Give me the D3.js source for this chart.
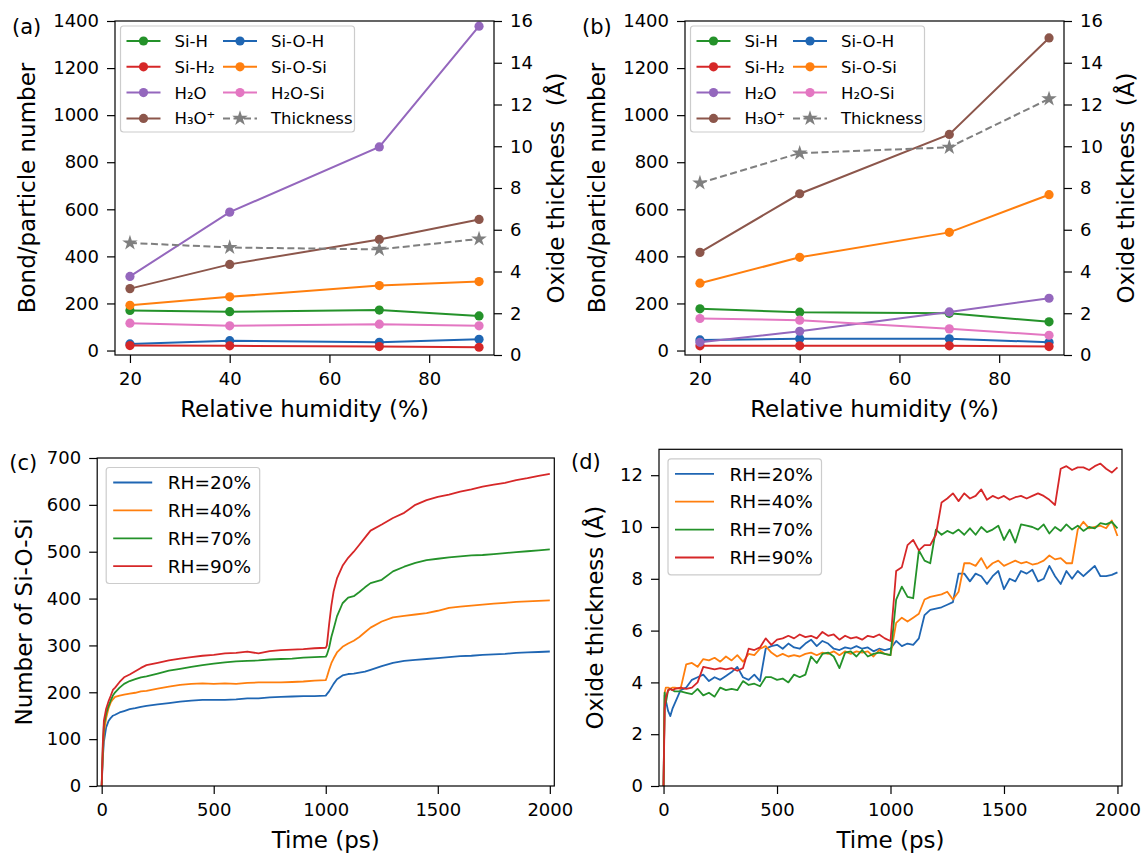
<!DOCTYPE html>
<html><head><meta charset="utf-8">
<script src="https://cdn.jsdelivr.net/npm/d3@7"></script>
<style>
body{margin:0;background:#fff}
svg text{font-family:"DejaVu Sans",sans-serif;fill:#000}
</style>
</head><body>
<svg id="fig" width="1143" height="853"></svg>
<script>
// ---------- data ----------
const humidity = [20, 40, 70, 90];
const xTicksRH = [20, 40, 60, 80];
const yTicksBond = [0, 200, 400, 600, 800, 1000, 1200, 1400];
const yTicksThick = [0, 2, 4, 6, 8, 10, 12, 14, 16];

// panel (a)
const aSiH   = [170, 165, 172, 147];
const aSiH2  = [21, 20, 17, 14];
const aH2O   = [315, 588, 865, 1378];
const aH3O   = [263, 366, 472, 557];
const aSiOH  = [28, 42, 35, 48];
const aSiOSi = [192, 228, 276, 293];
const aH2OSi = [116, 105, 112, 105];
const aThick = [5.37, 5.15, 5.06, 5.56];

// panel (b)
const bSiH   = [177, 163, 158, 122];
const bSiH2  = [20, 20, 20, 17];
const bH2O   = [35, 82, 164, 222];
const bH3O   = [417, 666, 918, 1328];
const bSiOH  = [45, 50, 50, 35];
const bSiOSi = [286, 396, 502, 662];
const bH2OSi = [136, 129, 92, 65];
const bThick = [8.24, 9.67, 9.95, 12.27];

const seriesNames = ["Si-H", "Si-H₂", "H₂O", "H₃O⁺", "Si-O-H", "Si-O-Si", "H₂O-Si", "Thickness"];

// panel (c): number of Si-O-Si vs time
const tC = [0,5,10,20,30,40,50,60,80,100,125,150,175,200,250,300,350,400,450,500,
            550,600,650,700,750,800,850,900,950,1000,1005,1015,1025,1035,1050,1075,1100,1125,1150,1175,
            1200,1250,1300,1350,1400,1450,1500,1550,1600,1650,1700,1750,1800,1850,1900,1950,2000];
const c20 = [0,60,95,125,138,145,150,152,157,160,164,166,169,171,174,177,180,182,184,184,
             184,185,187,187,189,190,191,192,192,193,196,202,210,218,228,236,239,240,242,244,
             248,256,263,267,269,271,273,275,277,278,280,281,282,284,285,286,287];
const c40 = [0,70,115,145,165,178,185,190,193,195,197,199,202,203,208,212,216,218,219,218,
             219,218,220,221,221,221,222,223,225,226,232,248,262,272,285,297,304,310,318,328,
             338,351,360,363,366,369,374,380,383,385,387,389,391,393,394,395,396];
const c70 = [0,80,130,155,170,182,193,200,210,218,224,228,232,234,240,246,250,254,258,261,
             264,266,267,268,270,271,272,274,275,276,280,295,318,335,362,390,402,405,414,424,
             433,440,458,468,476,482,485,488,490,492,493,495,497,499,501,503,505];
const c90 = [0,90,140,165,180,192,205,210,222,232,238,245,252,258,263,268,272,275,278,280,
             283,284,287,283,288,290,291,292,294,295,300,345,385,415,443,470,487,500,515,530,
             545,558,572,583,600,610,617,622,628,633,639,643,647,653,657,662,666];

// panel (d): oxide thickness vs time
const tD = [0,5,10,20,30,40,
  50,75,100,125,150,175,200,225,250,275,
  300,325,350,375,400,425,450,475,500,525,
  550,575,600,625,650,675,700,725,750,775,
  800,825,850,875,900,925,950,975,1000,1025,
  1050,1075,1100,1125,1150,1175,1200,1225,1250,1275,
  1300,1325,1350,1375,1400,1425,1450,1475,1500,1525,
  1550,1575,1600,1625,1650,1675,1700,1725,1750,1775,
  1800,1825,1850,1875,1900,1925,1950,1975,2000];
const d20 = [0,3.5,3.3,2.9,2.7,3.0,
  3.2,3.7,3.8,4.1,4.2,4.3,4.05,4.2,4.1,4.25,
  4.4,4.6,4.2,4.1,4.3,4.05,5.3,5.4,5.45,5.3,
  5.5,5.35,5.3,5.5,5.65,5.4,5.6,5.5,5.3,5.25,
  5.35,5.3,5.4,5.3,5.35,5.2,5.3,5.25,5.3,5.6,
  5.4,5.5,5.45,5.7,6.6,6.8,6.85,6.9,7.0,7.1,
  8.2,8.2,7.9,8.2,8.1,7.8,8.1,8.3,7.6,8.0,
  7.9,8.3,8.2,8.35,7.9,8.0,8.5,8.1,7.8,8.3,
  8.0,8.3,8.1,8.3,8.5,8.1,8.1,8.15,8.25];
const d40 = [0,3.6,3.8,3.8,3.75,3.8,
  3.8,3.75,4.7,4.75,4.6,4.9,4.85,4.95,4.8,5.0,
  4.85,5.05,4.8,5.1,5.05,5.3,5.4,5.15,5.0,5.1,
  5.0,5.05,5.0,5.1,5.15,5.05,5.15,5.1,5.2,5.05,
  5.2,5.1,5.2,5.15,5.2,5.0,5.25,5.1,5.05,6.3,
  6.5,6.35,6.5,6.65,7.2,7.3,7.35,7.4,7.5,7.2,
  7.5,8.6,8.6,8.5,8.8,8.4,8.6,8.7,8.5,8.6,
  8.7,8.6,8.65,8.55,8.6,8.7,8.9,8.75,8.8,8.6,
  8.6,9.9,10.2,9.95,10.0,10.05,9.95,10.25,9.65];
const d70 = [0,3.6,3.2,3.7,3.75,3.7,
  3.65,3.65,3.6,3.55,3.75,3.5,3.6,3.45,3.8,3.7,
  3.75,3.7,4.05,3.9,3.95,3.85,4.2,4.2,4.1,4.15,
  4.0,4.3,4.2,4.3,5.0,4.75,5.1,5.15,5.0,4.55,
  5.15,5.2,5.0,5.25,5.0,5.1,5.15,5.1,5.05,7.2,
  7.7,7.3,7.25,9.1,8.7,8.6,9.9,9.7,9.85,9.75,
  9.9,9.7,9.95,9.7,10.0,9.8,9.9,10.05,9.5,9.9,
  9.4,10.1,10.05,10.0,9.9,10.1,9.75,10.0,9.85,10.1,
  9.9,10.05,9.85,10.0,9.95,10.15,10.1,10.2,9.95];
const d90 = [0,3.0,3.4,3.7,3.75,3.7,
  3.75,3.8,3.75,3.8,4.0,4.6,4.55,4.5,4.55,4.5,
  4.55,4.45,4.55,5.3,5.25,5.35,5.7,5.45,5.65,5.7,
  5.8,5.7,5.85,5.75,5.8,5.7,5.95,5.8,5.85,5.65,
  5.8,5.7,5.75,5.65,5.8,5.75,5.85,5.7,5.6,8.3,
  8.45,9.3,9.5,9.1,9.3,9.3,9.7,10.95,11.1,11.3,
  11.0,11.3,11.1,11.2,11.45,11.05,11.2,11.1,11.2,11.05,
  11.15,11.2,11.1,11.2,11.3,11.2,11.05,10.85,12.25,12.35,
  12.2,12.3,12.3,12.2,12.35,12.45,12.25,12.1,12.3];
const rhLabels = ["RH=20%", "RH=40%", "RH=70%", "RH=90%"];
const timeTicks = [0, 500, 1000, 1500, 2000];
const yTicksC = [0, 100, 200, 300, 400, 500, 600, 700];
const yTicksD = [0, 2, 4, 6, 8, 10, 12];

// ---------- styling ----------
const COL = {blue:"#1f66b3", orange:"#ff7f0e", green:"#24922a", red:"#d62728",
             purple:"#9467bd", brown:"#8c564b", pink:"#e377c2", gray:"#7f7f7f"};
const TICK_FS = 18, LABEL_FS = 23, PANEL_FS = 21;
const svg = d3.select("#fig");

function styleAxis(g) {
  g.attr("font-family", null).attr("font-size", TICK_FS);
  g.select(".domain").remove();
  g.selectAll(".tick line").attr("stroke", "#000").attr("stroke-width", 1.2);
  g.selectAll(".tick text").attr("fill", "#000");
}
function frame(L, R, T, B) {
  svg.append("rect").attr("x", L).attr("y", T).attr("width", R - L).attr("height", B - T)
    .attr("fill", "none").attr("stroke", "#000").attr("stroke-width", 1.2);
}
function text(x, y, s, fs, anchor, rot) {
  const t = svg.append("text").attr("font-size", fs).attr("text-anchor", anchor || "start")
    .attr("transform", `translate(${x},${y})` + (rot ? ` rotate(${rot})` : ""))
    .attr("xml:space", "preserve").text(s);
  return t;
}

// ---------- panels (a), (b) ----------
function drawAB(L, R, vals, thick, tag) {
  const T = 21, B = 355;
  const x = d3.scaleLinear().domain([17, 93]).range([L, R]);
  const yL = d3.scaleLinear().domain([-19, 1400]).range([B, T]);
  const yR = d3.scaleLinear().domain([0, 16]).range([B, T]);

  svg.append("g").attr("transform", `translate(0,${B})`)
    .call(d3.axisBottom(x).tickValues(xTicksRH).tickSize(8).tickPadding(9).tickFormat(d3.format("d"))).call(styleAxis);
  svg.append("g").attr("transform", `translate(${L},0)`)
    .call(d3.axisLeft(yL).tickValues(yTicksBond).tickSize(8).tickPadding(8).tickFormat(d3.format("d"))).call(styleAxis);
  svg.append("g").attr("transform", `translate(${R},0)`)
    .call(d3.axisRight(yR).tickValues(yTicksThick).tickSize(8).tickPadding(8).tickFormat(d3.format("d"))).call(styleAxis);

  const colors = [COL.green, COL.red, COL.purple, COL.brown, COL.blue, COL.orange, COL.pink];
  const order = [0, 4, 1, 2, 3, 5, 6];
  const line = d3.line();
  order.forEach(k => {
    const pts = humidity.map((h, i) => [x(h), yL(vals[k][i])]);
    svg.append("path").attr("d", line(pts)).attr("fill", "none").attr("stroke", colors[k]).attr("stroke-width", 2);
    svg.append("g").selectAll("circle").data(pts).join("circle")
      .attr("cx", d => d[0]).attr("cy", d => d[1]).attr("r", 4.6).attr("fill", colors[k]);
  });
  const tp = humidity.map((h, i) => [x(h), yR(thick[i])]);
  svg.append("path").attr("d", line(tp)).attr("fill", "none").attr("stroke", COL.gray)
    .attr("stroke-width", 2).attr("stroke-dasharray", "7,3.5");
  const star = d3.symbol(d3.symbolStar, 75)();
  svg.append("g").selectAll("path").data(tp).join("path")
    .attr("d", star).attr("transform", d => `translate(${d[0]},${d[1]})`).attr("fill", COL.gray);

  frame(L, R, T, B);

  // legend
  const lx = L + 5.5, ly = T + 5;
  svg.append("rect").attr("x", lx).attr("y", ly).attr("width", 234).attr("height", 106).attr("rx", 3)
    .attr("fill", "#fff").attr("fill-opacity", 0.85).attr("stroke", "#cccccc").attr("stroke-width", 1.2);
  seriesNames.forEach((nm, i) => {
    const col = i < 4 ? 0 : 1, row = i % 4;
    const hx = lx + 6 + col * 96.5, cy = ly + 15 + row * 25.8;
    if (i < 7) {
      const c = colors[i];
      svg.append("line").attr("x1", hx).attr("x2", hx + 34).attr("y1", cy).attr("y2", cy)
        .attr("stroke", c).attr("stroke-width", 2);
      svg.append("circle").attr("cx", hx + 17).attr("cy", cy).attr("r", 4.6).attr("fill", c);
    } else {
      svg.append("line").attr("x1", hx).attr("x2", hx + 34).attr("y1", cy).attr("y2", cy)
        .attr("stroke", COL.gray).attr("stroke-width", 2).attr("stroke-dasharray", "7,3.5");
      svg.append("path").attr("d", star).attr("transform", `translate(${hx + 17},${cy})`).attr("fill", COL.gray);
    }
    text(hx + 48, cy + 6, nm, 16.5, "start");
  });

  // labels
  text((L + R) / 2, 417, "Relative humidity (%)", LABEL_FS, "middle");
  text(L - 80, (T + B) / 2, "Bond/particle number", LABEL_FS, "middle", -90);
  text(R + 70, (T + B) / 2, "Oxide thickness  (Å)", LABEL_FS, "middle", -90);
  text(L - 103, 34, tag, PANEL_FS, "start");
}

drawAB(115, 494, [aSiH, aSiH2, aH2O, aH3O, aSiOH, aSiOSi, aH2OSi], aThick, "(a)");
drawAB(685, 1064, [bSiH, bSiH2, bH2O, bH3O, bSiOH, bSiOSi, bH2OSi], bThick, "(b)");

// ---------- panels (c), (d) ----------
function drawTime(L, R, T, B, yDom, yTicks, times, series, ylabel, tag, tagY, ylabX) {
  const x = d3.scaleLinear().domain([-20, 2020]).range([L, R]);
  const y = d3.scaleLinear().domain(yDom).range([B, T]);
  svg.append("g").attr("transform", `translate(0,${B})`)
    .call(d3.axisBottom(x).tickValues(timeTicks).tickSize(8).tickPadding(9).tickFormat(d3.format("d"))).call(styleAxis);
  svg.append("g").attr("transform", `translate(${L},0)`)
    .call(d3.axisLeft(y).tickValues(yTicks).tickSize(8).tickPadding(8).tickFormat(d3.format("d"))).call(styleAxis);
  const colors = [COL.blue, COL.orange, COL.green, COL.red];
  const line = d3.line();
  series.forEach((s, k) => {
    svg.append("path").attr("d", line(times.map((t, i) => [x(t), y(s[i])])))
      .attr("fill", "none").attr("stroke", colors[k]).attr("stroke-width", 1.8).attr("stroke-linejoin", "round");
  });
  frame(L, R, T, B);
  const lx = L + 9, ly = T + 9.5;
  svg.append("rect").attr("x", lx).attr("y", ly).attr("width", 153.5).attr("height", 116).attr("rx", 3)
    .attr("fill", "#fff").attr("fill-opacity", 0.85).attr("stroke", "#cccccc").attr("stroke-width", 1.2);
  rhLabels.forEach((nm, k) => {
    const cy = ly + 15 + k * 27.9;
    svg.append("line").attr("x1", lx + 7).attr("x2", lx + 46).attr("y1", cy).attr("y2", cy)
      .attr("stroke", colors[k]).attr("stroke-width", 1.8);
    text(lx + 61.5, cy + 6.7, nm, 18.5, "start");
  });
  text((L + R) / 2, 848, "Time (ps)", LABEL_FS, "middle");
  text(ylabX, (T + B) / 2, ylabel, LABEL_FS, "middle", -90);
  text(L - 88, tagY, tag, PANEL_FS, "start");
}

drawTime(97.2, 554.3, 458, 786, [0, 700], yTicksC, tC, [c20, c40, c70, c90], "Number of Si-O-Si", "(c)", 470, 32);
drawTime(659, 1122, 449.3, 786, [0, 13], yTicksD, tD, [d20, d40, d70, d90], "Oxide thickness (Å)", "(d)", 469, 603);
</script>
</body></html>
